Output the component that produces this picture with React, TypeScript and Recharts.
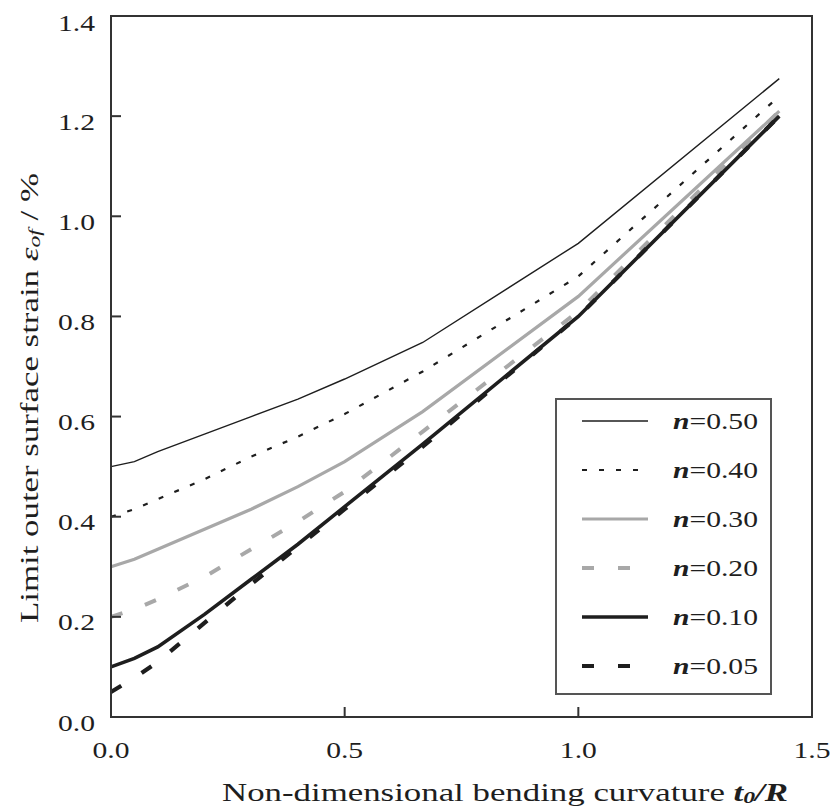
import { LineChart, Line, XAxis, YAxis, ReferenceArea, Label } from 'recharts';

// t0/R sample points shared by all curves
const curvature = [0, 0.05, 0.1, 0.2, 0.3, 0.4, 0.5, 0.667, 1.0, 1.43];

const n050 = [0.5, 0.51, 0.53, 0.565, 0.6, 0.635, 0.675, 0.748, 0.946, 1.275];
const n040 = [0.4, 0.415, 0.435, 0.475, 0.52, 0.56, 0.605, 0.69, 0.88, 1.24];
const n030 = [0.3, 0.315, 0.335, 0.375, 0.415, 0.46, 0.51, 0.61, 0.84, 1.21];
const n020 = [0.2, 0.215, 0.235, 0.28, 0.335, 0.39, 0.45, 0.57, 0.81, 1.21];
const n010 = [0.1, 0.117, 0.14, 0.205, 0.275, 0.345, 0.42, 0.545, 0.8, 1.2];
const n005 = [0.05, 0.078, 0.11, 0.188, 0.265, 0.34, 0.415, 0.54, 0.8, 1.2];

const xTicks = [0, 0.5, 1.0, 1.5];
const yTicks = [0, 0.2, 0.4, 0.6, 0.8, 1.0, 1.2, 1.4];

const data = curvature.map((x, i) => ({
  x,
  n050: n050[i],
  n040: n040[i],
  n030: n030[i],
  n020: n020[i],
  n010: n010[i],
  n005: n005[i],
}));

const FONT = '"Liberation Serif", "Times New Roman", serif';
const DARK = '#1e1e1e';
const GREY = '#a8a8a8';

const SERIES = [
  { key: 'n050', label: '0.50', color: DARK, width: 1.4, dash: undefined },
  { key: 'n040', label: '0.40', color: DARK, width: 2.2, dash: '5 12' },
  { key: 'n030', label: '0.30', color: GREY, width: 3.2, dash: undefined },
  { key: 'n020', label: '0.20', color: GREY, width: 4, dash: '12 24' },
  { key: 'n010', label: '0.10', color: DARK, width: 3.6, dash: undefined },
  { key: 'n005', label: '0.05', color: DARK, width: 4.2, dash: '12 24' },
];

const drawOrder = ['n020', 'n030', 'n040', 'n050', 'n005', 'n010'];

// the source typeface is wider than Liberation Serif, so text is stretched to the measured widths
function YTick({ x, y, payload }: any) {
  return (
    <text x={x} y={y + 6} textAnchor="end" dominantBaseline="central" fontFamily={FONT} fontSize={23}
      fill={DARK} textLength={37} lengthAdjust="spacingAndGlyphs">
      {Number(payload.value).toFixed(1)}
    </text>
  );
}

function XTick({ x, y, payload }: any) {
  return (
    <text x={x} y={y} textAnchor="middle" dominantBaseline="central" fontFamily={FONT} fontSize={23}
      fill={DARK} textLength={37} lengthAdjust="spacingAndGlyphs">
      {Number(payload.value).toFixed(1)}
    </text>
  );
}

function LegendBox() {
  return (
    <svg width={217} height={297} style={{ display: 'block' }}>
      <rect x={1} y={1} width={215} height={295} fill="#fff" stroke="#555" strokeWidth={2} />
      {SERIES.map((s, i) => {
        const cy = 23 + i * 49;
        return (
          <g key={s.key}>
            <line x1={27} x2={93} y1={cy} y2={cy} stroke={s.color} strokeWidth={s.width} strokeDasharray={s.dash} />
            <text x={118} y={cy} dominantBaseline="central" fontFamily={FONT} fontSize={23} fill={DARK}
              textLength={85} lengthAdjust="spacingAndGlyphs">
              <tspan fontStyle="italic" fontWeight="bold">n</tspan>
              <tspan>={s.label}</tspan>
            </text>
          </g>
        );
      })}
    </svg>
  );
}

export default function App() {
  return (
    <div style={{ position: 'relative', width: 830, height: 800 }}>
      <LineChart
        width={830}
        height={800}
        data={data}
        margin={{ top: 8, right: 26, bottom: 0, left: 0 }}
      >
        <XAxis
          dataKey="x"
          type="number"
          domain={[0, 1.5]}
          ticks={xTicks}
          height={91}
          tickSize={-10}
          tickMargin={43}
          stroke="#333"
          strokeWidth={2}
          tick={<XTick />}
        >
          <Label
            content={() => (
              <text x={497} y={784} textAnchor="middle" dominantBaseline="central" fontFamily={FONT} fontSize={25}
                fill={DARK} textLength={566} lengthAdjust="spacingAndGlyphs">
                Non-dimensional bending curvature{' '}
                <tspan fontStyle="italic" fontWeight="bold">t</tspan>
                <tspan fontStyle="italic" fontWeight="bold" fontSize={17} dy={5}>0</tspan>
                <tspan fontStyle="italic" fontWeight="bold" dy={-5}>/R</tspan>
              </text>
            )}
          />
        </XAxis>
        <YAxis
          type="number"
          domain={[0, 1.4]}
          ticks={yTicks}
          width={103}
          tickSize={-10}
          tickMargin={26}
          stroke="#333"
          strokeWidth={2}
          tick={<YTick />}
        >
          <Label
            content={() => (
              <text
                x={21}
                y={390}
                transform="rotate(-90, 21, 390)"
                textAnchor="middle"
                dominantBaseline="central"
                fontFamily={FONT}
                fontSize={25}
                fill={DARK}
                textLength={450}
                lengthAdjust="spacingAndGlyphs"
              >
                Limit outer surface strain <tspan fontStyle="italic">ε</tspan>
                <tspan fontStyle="italic" fontSize={17} dy={5}>of</tspan>
                <tspan dy={-5}> / %</tspan>
              </text>
            )}
          />
        </YAxis>
        <ReferenceArea x1={0} x2={1.5} y1={0} y2={1.4} fill="none" stroke="#333" strokeWidth={2} />
        {drawOrder.map((k) => {
          const s = SERIES.find((d) => d.key === k)!;
          return (
            <Line
              key={s.key}
              dataKey={s.key}
              name={`n=${s.label}`}
              type="linear"
              stroke={s.color}
              strokeWidth={s.width}
              strokeDasharray={s.dash}
              dot={false}
              activeDot={false}
              isAnimationActive={false}
            />
          );
        })}
      </LineChart>
      <div style={{ position: 'absolute', left: 547, top: 390 }}>
        <LegendBox />
      </div>
    </div>
  );
}
